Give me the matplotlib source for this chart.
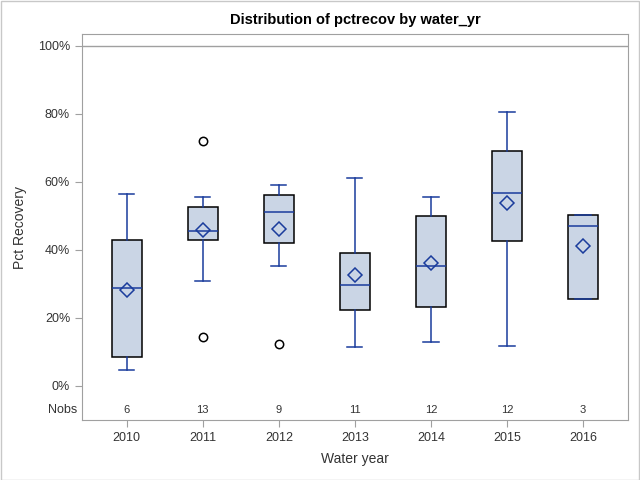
import matplotlib
matplotlib.use("Agg")
import matplotlib.pyplot as plt
from matplotlib.patches import Rectangle

plt.rcParams['font.family'] = ['Liberation Sans', 'DejaVu Sans']

# 数据: 每年的箱线图统计量 (%)
years = ["2010", "2011", "2012", "2013", "2014", "2015", "2016"]
nobs = [6, 13, 9, 11, 12, 12, 3]
whislo = [4.6, 30.9, 35.2, 11.4, 12.8, 11.8, 25.5]
q1 = [8.4, 42.8, 42.0, 22.3, 23.1, 42.5, 25.5]
med = [28.7, 45.5, 51.1, 29.6, 35.2, 56.7, 47.2]
q3 = [42.8, 52.5, 56.1, 39.0, 49.9, 69.0, 50.2]
whishi = [56.4, 55.5, 59.0, 61.1, 55.5, 80.5, 50.2]
means = [28.2, 45.9, 46.1, 32.6, 36.2, 53.7, 41.1]
fliers = [[], [72.0, 14.4], [12.3], [], [], [], []]

blue = '#1A3C9C'
fill = '#CAD5E5'
gray = '#A0A0A0'

stats = []
for i in range(len(years)):
    stats.append(dict(label=years[i], whislo=whislo[i], q1=q1[i], med=med[i],
                      q3=q3[i], whishi=whishi[i], mean=means[i], fliers=fliers[i]))

fig = plt.figure(figsize=(6.4, 4.8), dpi=100)
ax = fig.add_axes([0.128, 0.125, 0.853, 0.804])

pos = list(range(len(years)))
res = ax.bxp(stats, positions=pos, widths=0.395, showmeans=True, patch_artist=True,
             boxprops=dict(facecolor=fill, edgecolor='black', linewidth=1.1),
             medianprops=dict(color=blue, linewidth=1.1),
             whiskerprops=dict(color=blue, linewidth=1.1),
             capprops=dict(color=blue, linewidth=1.1),
             capwidths=0.2,
             meanprops=dict(marker='D', markerfacecolor='none', markeredgecolor=blue,
                            markersize=7, markeredgewidth=1.1),
             flierprops=dict(marker='o', markerfacecolor='none', markeredgecolor='black',
                             markersize=6, markeredgewidth=1.1),
             zorder=3)
for c in res['caps']:
    c.set_zorder(4)

# 100% 参考线
ax.axhline(100, color=gray, linewidth=1, zorder=1)

# Nobs 行
for i, n in enumerate(nobs):
    ax.text(i, -7, str(n), ha='center', va='center', fontsize=8, color='#333333')
ax.text(-0.008, -7, 'Nobs', transform=ax.get_yaxis_transform(), ha='right',
        va='center', fontsize=9, color='#333333')

ax.set_xlim(-0.59, 6.59)
ax.set_ylim(-10, 103.5)
ax.set_yticks([0, 20, 40, 60, 80, 100])
ax.set_yticklabels(["%d%%" % v for v in [0, 20, 40, 60, 80, 100]])
ax.set_xticks(pos)
ax.set_xticklabels(years)
ax.tick_params(colors=gray, labelcolor='#333333', labelsize=9, length=5)
for s in ax.spines.values():
    s.set_color(gray)

ax.set_xlabel("Water year", fontsize=10, color='#333333', labelpad=6)
ax.set_ylabel("Pct Recovery", fontsize=10, color='#333333', labelpad=8)
ax.set_title("Distribution of pctrecov by water_yr", fontsize=10.5, fontweight='bold', pad=7)

# 外边框
fig.patches.append(Rectangle((0.001, 0.001), 0.997, 0.997, transform=fig.transFigure,
                             fill=False, edgecolor='#C8C8C8', linewidth=1))

fig.savefig("out.png", dpi=100)
